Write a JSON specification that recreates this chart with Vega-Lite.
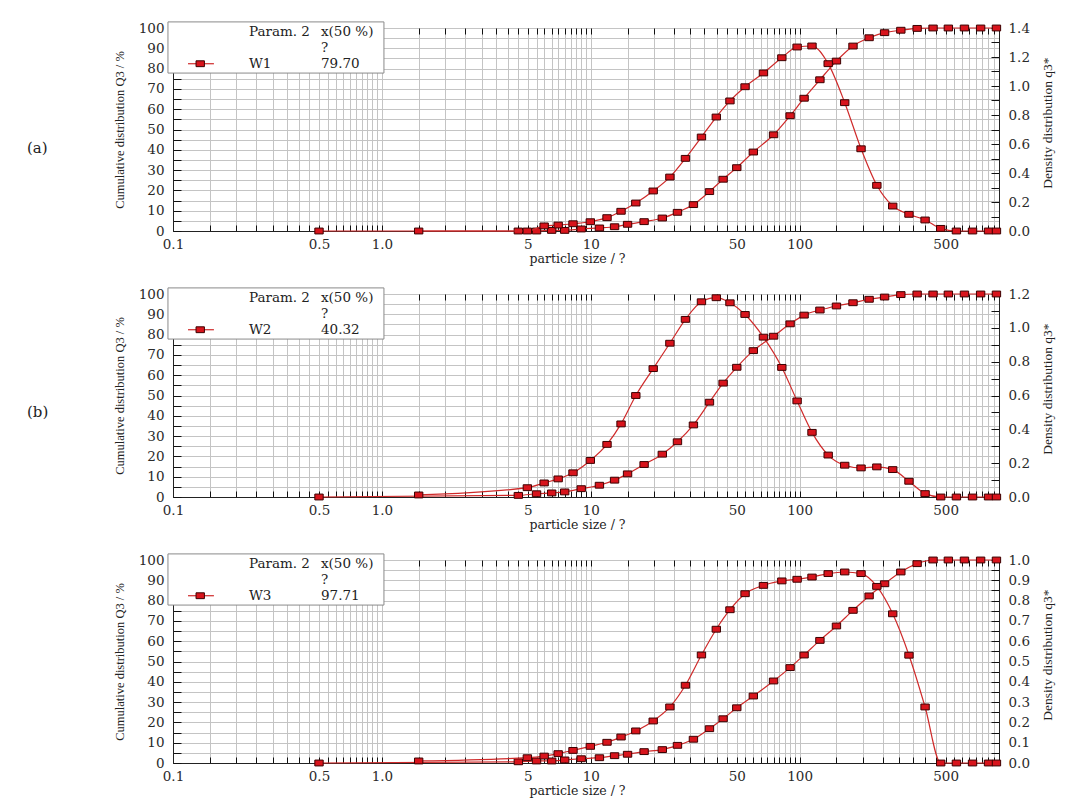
{
 "$schema": "https://vega.github.io/schema/vega-lite/v6.json",
 "background": "white",
 "padding": {"left": 26, "top": 20, "right": 10, "bottom": 10},
 "spacing": 63,
 "bounds": "flush",
 "config": {
  "font": "DejaVu Serif",
  "view": {"stroke": "#222", "strokeWidth": 1},
  "axis": {"labelFont": "DejaVu Serif", "titleFont": "Liberation Serif", "labelFontSize": 13.5, "titleFontSize": 12.5, "labelColor": "#2a2a2a", "titleColor": "#222", "titleFontWeight": "normal", "gridColor": "#c4c4c4", "gridOpacity": 1, "gridWidth": 1, "domainColor": "#222", "tickColor": "#111", "labelOverlap": false, "labelFlush": false},
  "text": {"font": "DejaVu Serif", "fontSize": 13.5, "color": "#222", "align": "left", "baseline": "middle"}
 },
 "datasets": {
  "one": [{"k": 1}],
  "cumA": [{"size":0.5,"Q3":0},{"size":4.5,"Q3":0},{"size":5.5,"Q3":0},{"size":6.5,"Q3":0.3},{"size":7.5,"Q3":0.3},{"size":9,"Q3":1.0},{"size":11,"Q3":1.5},{"size":13,"Q3":2.1},{"size":15,"Q3":3.3},{"size":18,"Q3":4.6},{"size":22,"Q3":6.4},{"size":26,"Q3":9.2},{"size":31,"Q3":13.0},{"size":37,"Q3":19.4},{"size":43,"Q3":25.5},{"size":50,"Q3":31.2},{"size":60,"Q3":38.9},{"size":75,"Q3":47.4},{"size":90,"Q3":56.8},{"size":105,"Q3":65.4},{"size":125,"Q3":74.5},{"size":150,"Q3":83.7},{"size":180,"Q3":91.1},{"size":215,"Q3":95.2},{"size":255,"Q3":97.7},{"size":305,"Q3":98.9},{"size":365,"Q3":99.8},{"size":435,"Q3":100},{"size":515,"Q3":100},{"size":615,"Q3":100},{"size":735,"Q3":100},{"size":875,"Q3":100}],
  "denA": [{"size":1.5,"q3":0},{"size":4.97,"q3":0},{"size":5.98,"q3":0.035},{"size":6.98,"q3":0.041},{"size":8.22,"q3":0.05},{"size":9.95,"q3":0.064},{"size":11.96,"q3":0.092},{"size":13.96,"q3":0.136},{"size":16.43,"q3":0.193},{"size":19.9,"q3":0.276},{"size":23.92,"q3":0.372},{"size":28.39,"q3":0.501},{"size":33.87,"q3":0.648},{"size":39.89,"q3":0.786},{"size":46.37,"q3":0.897},{"size":54.77,"q3":0.995},{"size":67.08,"q3":1.09},{"size":82.16,"q3":1.195},{"size":97.21,"q3":1.269},{"size":114.56,"q3":1.276},{"size":136.93,"q3":1.154},{"size":164.32,"q3":0.885},{"size":196.72,"q3":0.567},{"size":234.15,"q3":0.315},{"size":278.88,"q3":0.172},{"size":333.65,"q3":0.115},{"size":398.47,"q3":0.076},{"size":473.31,"q3":0.018},{"size":562.79,"q3":0},{"size":672.33,"q3":0},{"size":801.95,"q3":0},{"size":875,"q3":0}],
  "cumB": [{"size":0.5,"Q3":0},{"size":4.5,"Q3":0.8},{"size":5.5,"Q3":1.6},{"size":6.5,"Q3":2.0},{"size":7.5,"Q3":2.5},{"size":9,"Q3":4.1},{"size":11,"Q3":5.8},{"size":13,"Q3":8.3},{"size":15,"Q3":11.4},{"size":18,"Q3":16.0},{"size":22,"Q3":21.1},{"size":26,"Q3":27.2},{"size":31,"Q3":35.5},{"size":37,"Q3":46.7},{"size":43,"Q3":56.1},{"size":50,"Q3":63.9},{"size":60,"Q3":72.1},{"size":75,"Q3":79.2},{"size":90,"Q3":85.3},{"size":105,"Q3":89.6},{"size":125,"Q3":92.1},{"size":150,"Q3":94.1},{"size":180,"Q3":95.7},{"size":215,"Q3":97.4},{"size":255,"Q3":98.5},{"size":305,"Q3":99.7},{"size":365,"Q3":100},{"size":435,"Q3":100},{"size":515,"Q3":100},{"size":615,"Q3":100},{"size":735,"Q3":100},{"size":875,"Q3":100}],
  "denB": [{"size":1.5,"q3":0.012},{"size":4.97,"q3":0.055},{"size":5.98,"q3":0.083},{"size":6.98,"q3":0.107},{"size":8.22,"q3":0.143},{"size":9.95,"q3":0.216},{"size":11.96,"q3":0.311},{"size":13.96,"q3":0.432},{"size":16.43,"q3":0.6},{"size":19.9,"q3":0.759},{"size":23.92,"q3":0.909},{"size":28.39,"q3":1.05},{"size":33.87,"q3":1.154},{"size":39.89,"q3":1.178},{"size":46.37,"q3":1.148},{"size":54.77,"q3":1.079},{"size":67.08,"q3":0.945},{"size":82.16,"q3":0.766},{"size":97.21,"q3":0.568},{"size":114.56,"q3":0.382},{"size":136.93,"q3":0.248},{"size":164.32,"q3":0.188},{"size":196.72,"q3":0.172},{"size":234.15,"q3":0.178},{"size":278.88,"q3":0.162},{"size":333.65,"q3":0.093},{"size":398.47,"q3":0.02},{"size":473.31,"q3":0},{"size":562.79,"q3":0},{"size":672.33,"q3":0},{"size":801.95,"q3":0},{"size":875,"q3":0}],
  "cumC": [{"size":0.5,"Q3":0},{"size":4.5,"Q3":0.6},{"size":5.5,"Q3":1.0},{"size":6.5,"Q3":1.0},{"size":7.5,"Q3":1.5},{"size":9,"Q3":2.1},{"size":11,"Q3":2.6},{"size":13,"Q3":3.6},{"size":15,"Q3":4.3},{"size":18,"Q3":5.6},{"size":22,"Q3":6.6},{"size":26,"Q3":8.7},{"size":31,"Q3":11.7},{"size":37,"Q3":16.9},{"size":43,"Q3":21.8},{"size":50,"Q3":27.2},{"size":60,"Q3":33.0},{"size":75,"Q3":40.4},{"size":90,"Q3":47.0},{"size":105,"Q3":53.2},{"size":125,"Q3":60.4},{"size":150,"Q3":67.5},{"size":180,"Q3":75.2},{"size":215,"Q3":82.3},{"size":255,"Q3":88.3},{"size":305,"Q3":94.1},{"size":365,"Q3":98.2},{"size":435,"Q3":100},{"size":515,"Q3":100},{"size":615,"Q3":100},{"size":735,"Q3":100},{"size":875,"Q3":100}],
  "denC": [{"size":1.5,"q3":0.01},{"size":4.97,"q3":0.026},{"size":5.98,"q3":0.034},{"size":6.98,"q3":0.046},{"size":8.22,"q3":0.062},{"size":9.95,"q3":0.082},{"size":11.96,"q3":0.102},{"size":13.96,"q3":0.128},{"size":16.43,"q3":0.158},{"size":19.9,"q3":0.207},{"size":23.92,"q3":0.276},{"size":28.39,"q3":0.383},{"size":33.87,"q3":0.532},{"size":39.89,"q3":0.659},{"size":46.37,"q3":0.755},{"size":54.77,"q3":0.834},{"size":67.08,"q3":0.875},{"size":82.16,"q3":0.897},{"size":97.21,"q3":0.905},{"size":114.56,"q3":0.916},{"size":136.93,"q3":0.933},{"size":164.32,"q3":0.941},{"size":196.72,"q3":0.933},{"size":234.15,"q3":0.87},{"size":278.88,"q3":0.735},{"size":333.65,"q3":0.531},{"size":398.47,"q3":0.276},{"size":473.31,"q3":0},{"size":562.79,"q3":0},{"size":672.33,"q3":0},{"size":801.95,"q3":0},{"size":875,"q3":0}]
 },
 "vconcat": [
  {
   "width": 826, "height": 203,
   "resolve": {"scale": {"x": "independent", "y": "independent"}},
   "layer": [
    {"data": {"name": "cumA"},
     "mark": {"type": "line", "interpolate": "monotone", "color": "#cf2a2a", "strokeWidth": 1.2, "point": {"shape": "M-1,-0.7L1,-0.7L1,0.7L-1,0.7Z", "size": 70, "filled": true, "fill": "#d8141c", "stroke": "#3c0000", "strokeWidth": 1, "opacity": 1}},
     "encoding": {
      "x": {"field": "size", "type": "quantitative", "scale": {"type": "log", "domain": [0.1, 900], "nice": false},
       "axis": {"title": "particle size / ?", "titleFont": "DejaVu Serif", "titleX": 404, "titleY": 21, "titleBaseline": "top", "grid": true, "domain": true, "tickSize": -6, "labelPadding": 12, "labelOverlap": false,
        "values": [0.1,0.15,0.2,0.25,0.3,0.35,0.4,0.45,0.5,0.55,0.6,0.65,0.7,0.75,0.8,0.85,0.9,0.95,1,1.5,2,2.5,3,3.5,4,4.5,5,5.5,6,6.5,7,7.5,8,8.5,9,9.5,10,15,20,25,30,35,40,45,50,55,60,65,70,75,80,85,90,95,100,150,200,250,300,350,400,450,500,550,600,650,700,750,800,850,900],
        "labelExpr": "indexof([0.1,0.5,1,5,10,50,100,500], datum.value) >= 0 ? (datum.value < 1 ? format(datum.value, '.1f') : (datum.value == 1 ? '1.0' : format(datum.value, 'd'))) : ''"}},
      "y": {"field": "Q3", "type": "quantitative", "scale": {"domain": [0, 100], "nice": false},
       "axis": {"title": "Cumulative distribution Q3 / %", "titleX": -47, "titleY": 101.5, "titleAngle": 270, "titleBaseline": "bottom", "titleAlign": "center", "grid": true, "tickSize": -8, "labelPadding": 17, "labelOverlap": false,
        "values": [0,5,10,15,20,25,30,35,40,45,50,55,60,65,70,75,80,85,90,95,100],
        "labelExpr": "datum.value % 10 == 0 ? format(datum.value, 'd') : ''"}}
     }},
    {"data": {"name": "denA"},
     "mark": {"type": "line", "interpolate": "monotone", "color": "#cf2a2a", "strokeWidth": 1.2, "point": {"shape": "M-1,-0.7L1,-0.7L1,0.7L-1,0.7Z", "size": 70, "filled": true, "fill": "#d8141c", "stroke": "#3c0000", "strokeWidth": 1, "opacity": 1}},
     "encoding": {
      "x": {"field": "size", "type": "quantitative", "scale": {"type": "log", "domain": [0.1, 900], "nice": false},
       "axis": {"orient": "top", "title": null, "labels": false, "grid": false, "domain": false, "tickSize": -6,
        "values": [0.1,0.15,0.2,0.25,0.3,0.35,0.4,0.45,0.5,0.55,0.6,0.65,0.7,0.75,0.8,0.85,0.9,0.95,1,1.5,2,2.5,3,3.5,4,4.5,5,5.5,6,6.5,7,7.5,8,8.5,9,9.5,10,15,20,25,30,35,40,45,50,55,60,65,70,75,80,85,90,95,100,150,200,250,300,350,400,450,500,550,600,650,700,750,800,850,900]}},
      "y": {"field": "q3", "type": "quantitative", "scale": {"domain": [0, 1.4], "nice": false},
       "axis": {"orient": "right", "title": "Density distribution q3*", "titleFontSize": 13.5, "titleX": 52, "titleY": 94.5, "titleAngle": 270, "titleBaseline": "alphabetic", "titleAlign": "center", "grid": false, "tickSize": -8, "labelPadding": 17, "labelOverlap": false,
        "values": [0,0.1,0.2,0.3,0.4,0.5,0.6,0.7,0.8,0.9,1.0,1.1,1.2,1.3,1.4],
        "labelExpr": "round(datum.value*10) % 2 == 0 ? format(datum.value, '.1f') : ''"}}
     }},
    {
     "data": {"name": "one"},
     "layer": [
      {"mark": {"type": "rect", "fill": "white", "stroke": "#8a8a8a", "strokeWidth": 1},
       "encoding": {"x": {"datum": 0.0946, "type": "quantitative", "scale": {"type": "log", "domain": [0.1, 900], "nice": false}, "axis": null}, "x2": {"datum": 1.023}, "y": {"datum": 103, "type": "quantitative", "scale": {"domain": [0, 100], "nice": false}, "axis": null}, "y2": {"datum": 77.8}}},
      {"mark": {"type": "text"}, "encoding": {"x": {"datum": 0.231}, "y": {"datum": 98.2}, "text": {"value": "Param. 2"}}},
      {"mark": {"type": "text"}, "encoding": {"x": {"datum": 0.511}, "y": {"datum": 98.2}, "text": {"value": "x(50 %)"}}},
      {"mark": {"type": "text"}, "encoding": {"x": {"datum": 0.511}, "y": {"datum": 90.3}, "text": {"value": "?"}}},
      {"mark": {"type": "text"}, "encoding": {"x": {"datum": 0.231}, "y": {"datum": 82.4}, "text": {"value": "W1"}}},
      {"mark": {"type": "text"}, "encoding": {"x": {"datum": 0.511}, "y": {"datum": 82.4}, "text": {"value": "79.70"}}},
      {"mark": {"type": "rule", "color": "#cf2a2a", "strokeWidth": 1.2}, "encoding": {"x": {"datum": 0.118}, "x2": {"datum": 0.157}, "y": {"datum": 82.4}}},
      {"mark": {"type": "point", "shape": "M-1,-0.7L1,-0.7L1,0.7L-1,0.7Z", "size": 70, "filled": true, "fill": "#d8141c", "stroke": "#3c0000", "strokeWidth": 1, "opacity": 1}, "encoding": {"x": {"datum": 0.135}, "y": {"datum": 82.4}}},
      {"mark": {"type": "text", "fontSize": 15}, "encoding": {"x": {"datum": 0.02}, "y": {"datum": 40.9}, "text": {"value": "(a)"}}}
     ]
    }
   ]
  },
  {
   "width": 826, "height": 203,
   "resolve": {"scale": {"x": "independent", "y": "independent"}},
   "layer": [
    {"data": {"name": "cumB"},
     "mark": {"type": "line", "interpolate": "monotone", "color": "#cf2a2a", "strokeWidth": 1.2, "point": {"shape": "M-1,-0.7L1,-0.7L1,0.7L-1,0.7Z", "size": 70, "filled": true, "fill": "#d8141c", "stroke": "#3c0000", "strokeWidth": 1, "opacity": 1}},
     "encoding": {
      "x": {"field": "size", "type": "quantitative", "scale": {"type": "log", "domain": [0.1, 900], "nice": false},
       "axis": {"title": "particle size / ?", "titleFont": "DejaVu Serif", "titleX": 404, "titleY": 21, "titleBaseline": "top", "grid": true, "domain": true, "tickSize": -6, "labelPadding": 12, "labelOverlap": false,
        "values": [0.1,0.15,0.2,0.25,0.3,0.35,0.4,0.45,0.5,0.55,0.6,0.65,0.7,0.75,0.8,0.85,0.9,0.95,1,1.5,2,2.5,3,3.5,4,4.5,5,5.5,6,6.5,7,7.5,8,8.5,9,9.5,10,15,20,25,30,35,40,45,50,55,60,65,70,75,80,85,90,95,100,150,200,250,300,350,400,450,500,550,600,650,700,750,800,850,900],
        "labelExpr": "indexof([0.1,0.5,1,5,10,50,100,500], datum.value) >= 0 ? (datum.value < 1 ? format(datum.value, '.1f') : (datum.value == 1 ? '1.0' : format(datum.value, 'd'))) : ''"}},
      "y": {"field": "Q3", "type": "quantitative", "scale": {"domain": [0, 100], "nice": false},
       "axis": {"title": "Cumulative distribution Q3 / %", "titleX": -47, "titleY": 101.5, "titleAngle": 270, "titleBaseline": "bottom", "titleAlign": "center", "grid": true, "tickSize": -8, "labelPadding": 17, "labelOverlap": false,
        "values": [0,5,10,15,20,25,30,35,40,45,50,55,60,65,70,75,80,85,90,95,100],
        "labelExpr": "datum.value % 10 == 0 ? format(datum.value, 'd') : ''"}}
     }},
    {"data": {"name": "denB"},
     "mark": {"type": "line", "interpolate": "monotone", "color": "#cf2a2a", "strokeWidth": 1.2, "point": {"shape": "M-1,-0.7L1,-0.7L1,0.7L-1,0.7Z", "size": 70, "filled": true, "fill": "#d8141c", "stroke": "#3c0000", "strokeWidth": 1, "opacity": 1}},
     "encoding": {
      "x": {"field": "size", "type": "quantitative", "scale": {"type": "log", "domain": [0.1, 900], "nice": false},
       "axis": {"orient": "top", "title": null, "labels": false, "grid": false, "domain": false, "tickSize": -6,
        "values": [0.1,0.15,0.2,0.25,0.3,0.35,0.4,0.45,0.5,0.55,0.6,0.65,0.7,0.75,0.8,0.85,0.9,0.95,1,1.5,2,2.5,3,3.5,4,4.5,5,5.5,6,6.5,7,7.5,8,8.5,9,9.5,10,15,20,25,30,35,40,45,50,55,60,65,70,75,80,85,90,95,100,150,200,250,300,350,400,450,500,550,600,650,700,750,800,850,900]}},
      "y": {"field": "q3", "type": "quantitative", "scale": {"domain": [0, 1.2], "nice": false},
       "axis": {"orient": "right", "title": "Density distribution q3*", "titleFontSize": 13.5, "titleX": 52, "titleY": 94.5, "titleAngle": 270, "titleBaseline": "alphabetic", "titleAlign": "center", "grid": false, "tickSize": -8, "labelPadding": 17, "labelOverlap": false,
        "values": [0,0.1,0.2,0.3,0.4,0.5,0.6,0.7,0.8,0.9,1.0,1.1,1.2],
        "labelExpr": "round(datum.value*10) % 2 == 0 ? format(datum.value, '.1f') : ''"}}
     }},
    {
     "data": {"name": "one"},
     "layer": [
      {"mark": {"type": "rect", "fill": "white", "stroke": "#8a8a8a", "strokeWidth": 1},
       "encoding": {"x": {"datum": 0.0946, "type": "quantitative", "scale": {"type": "log", "domain": [0.1, 900], "nice": false}, "axis": null}, "x2": {"datum": 1.023}, "y": {"datum": 103, "type": "quantitative", "scale": {"domain": [0, 100], "nice": false}, "axis": null}, "y2": {"datum": 77.8}}},
      {"mark": {"type": "text"}, "encoding": {"x": {"datum": 0.231}, "y": {"datum": 98.2}, "text": {"value": "Param. 2"}}},
      {"mark": {"type": "text"}, "encoding": {"x": {"datum": 0.511}, "y": {"datum": 98.2}, "text": {"value": "x(50 %)"}}},
      {"mark": {"type": "text"}, "encoding": {"x": {"datum": 0.511}, "y": {"datum": 90.3}, "text": {"value": "?"}}},
      {"mark": {"type": "text"}, "encoding": {"x": {"datum": 0.231}, "y": {"datum": 82.4}, "text": {"value": "W2"}}},
      {"mark": {"type": "text"}, "encoding": {"x": {"datum": 0.511}, "y": {"datum": 82.4}, "text": {"value": "40.32"}}},
      {"mark": {"type": "rule", "color": "#cf2a2a", "strokeWidth": 1.2}, "encoding": {"x": {"datum": 0.118}, "x2": {"datum": 0.157}, "y": {"datum": 82.4}}},
      {"mark": {"type": "point", "shape": "M-1,-0.7L1,-0.7L1,0.7L-1,0.7Z", "size": 70, "filled": true, "fill": "#d8141c", "stroke": "#3c0000", "strokeWidth": 1, "opacity": 1}, "encoding": {"x": {"datum": 0.135}, "y": {"datum": 82.4}}},
      {"mark": {"type": "text", "fontSize": 15}, "encoding": {"x": {"datum": 0.02}, "y": {"datum": 42.1}, "text": {"value": "(b)"}}}
     ]
    }
   ]
  },
  {
   "width": 826, "height": 203,
   "resolve": {"scale": {"x": "independent", "y": "independent"}},
   "layer": [
    {"data": {"name": "cumC"},
     "mark": {"type": "line", "interpolate": "monotone", "color": "#cf2a2a", "strokeWidth": 1.2, "point": {"shape": "M-1,-0.7L1,-0.7L1,0.7L-1,0.7Z", "size": 70, "filled": true, "fill": "#d8141c", "stroke": "#3c0000", "strokeWidth": 1, "opacity": 1}},
     "encoding": {
      "x": {"field": "size", "type": "quantitative", "scale": {"type": "log", "domain": [0.1, 900], "nice": false},
       "axis": {"title": "particle size / ?", "titleFont": "DejaVu Serif", "titleX": 404, "titleY": 21, "titleBaseline": "top", "grid": true, "domain": true, "tickSize": -6, "labelPadding": 12, "labelOverlap": false,
        "values": [0.1,0.15,0.2,0.25,0.3,0.35,0.4,0.45,0.5,0.55,0.6,0.65,0.7,0.75,0.8,0.85,0.9,0.95,1,1.5,2,2.5,3,3.5,4,4.5,5,5.5,6,6.5,7,7.5,8,8.5,9,9.5,10,15,20,25,30,35,40,45,50,55,60,65,70,75,80,85,90,95,100,150,200,250,300,350,400,450,500,550,600,650,700,750,800,850,900],
        "labelExpr": "indexof([0.1,0.5,1,5,10,50,100,500], datum.value) >= 0 ? (datum.value < 1 ? format(datum.value, '.1f') : (datum.value == 1 ? '1.0' : format(datum.value, 'd'))) : ''"}},
      "y": {"field": "Q3", "type": "quantitative", "scale": {"domain": [0, 100], "nice": false},
       "axis": {"title": "Cumulative distribution Q3 / %", "titleX": -47, "titleY": 101.5, "titleAngle": 270, "titleBaseline": "bottom", "titleAlign": "center", "grid": true, "tickSize": -8, "labelPadding": 17, "labelOverlap": false,
        "values": [0,5,10,15,20,25,30,35,40,45,50,55,60,65,70,75,80,85,90,95,100],
        "labelExpr": "datum.value % 10 == 0 ? format(datum.value, 'd') : ''"}}
     }},
    {"data": {"name": "denC"},
     "mark": {"type": "line", "interpolate": "monotone", "color": "#cf2a2a", "strokeWidth": 1.2, "point": {"shape": "M-1,-0.7L1,-0.7L1,0.7L-1,0.7Z", "size": 70, "filled": true, "fill": "#d8141c", "stroke": "#3c0000", "strokeWidth": 1, "opacity": 1}},
     "encoding": {
      "x": {"field": "size", "type": "quantitative", "scale": {"type": "log", "domain": [0.1, 900], "nice": false},
       "axis": {"orient": "top", "title": null, "labels": false, "grid": false, "domain": false, "tickSize": -6,
        "values": [0.1,0.15,0.2,0.25,0.3,0.35,0.4,0.45,0.5,0.55,0.6,0.65,0.7,0.75,0.8,0.85,0.9,0.95,1,1.5,2,2.5,3,3.5,4,4.5,5,5.5,6,6.5,7,7.5,8,8.5,9,9.5,10,15,20,25,30,35,40,45,50,55,60,65,70,75,80,85,90,95,100,150,200,250,300,350,400,450,500,550,600,650,700,750,800,850,900]}},
      "y": {"field": "q3", "type": "quantitative", "scale": {"domain": [0, 1.0], "nice": false},
       "axis": {"orient": "right", "title": "Density distribution q3*", "titleFontSize": 13.5, "titleX": 52, "titleY": 94.5, "titleAngle": 270, "titleBaseline": "alphabetic", "titleAlign": "center", "grid": false, "tickSize": -8, "labelPadding": 17, "labelOverlap": false,
        "values": [0,0.05,0.1,0.15,0.2,0.25,0.3,0.35,0.4,0.45,0.5,0.55,0.6,0.65,0.7,0.75,0.8,0.85,0.9,0.95,1.0],
        "labelExpr": "round(datum.value*100) % 10 == 0 ? format(datum.value, '.1f') : ''"}}
     }},
    {
     "data": {"name": "one"},
     "layer": [
      {"mark": {"type": "rect", "fill": "white", "stroke": "#8a8a8a", "strokeWidth": 1},
       "encoding": {"x": {"datum": 0.0946, "type": "quantitative", "scale": {"type": "log", "domain": [0.1, 900], "nice": false}, "axis": null}, "x2": {"datum": 1.023}, "y": {"datum": 103, "type": "quantitative", "scale": {"domain": [0, 100], "nice": false}, "axis": null}, "y2": {"datum": 77.8}}},
      {"mark": {"type": "text"}, "encoding": {"x": {"datum": 0.231}, "y": {"datum": 98.2}, "text": {"value": "Param. 2"}}},
      {"mark": {"type": "text"}, "encoding": {"x": {"datum": 0.511}, "y": {"datum": 98.2}, "text": {"value": "x(50 %)"}}},
      {"mark": {"type": "text"}, "encoding": {"x": {"datum": 0.511}, "y": {"datum": 90.3}, "text": {"value": "?"}}},
      {"mark": {"type": "text"}, "encoding": {"x": {"datum": 0.231}, "y": {"datum": 82.4}, "text": {"value": "W3"}}},
      {"mark": {"type": "text"}, "encoding": {"x": {"datum": 0.511}, "y": {"datum": 82.4}, "text": {"value": "97.71"}}},
      {"mark": {"type": "rule", "color": "#cf2a2a", "strokeWidth": 1.2}, "encoding": {"x": {"datum": 0.118}, "x2": {"datum": 0.157}, "y": {"datum": 82.4}}},
      {"mark": {"type": "point", "shape": "M-1,-0.7L1,-0.7L1,0.7L-1,0.7Z", "size": 70, "filled": true, "fill": "#d8141c", "stroke": "#3c0000", "strokeWidth": 1, "opacity": 1}, "encoding": {"x": {"datum": 0.135}, "y": {"datum": 82.4}}}
     ]
    }
   ]
  }
 ]
}
